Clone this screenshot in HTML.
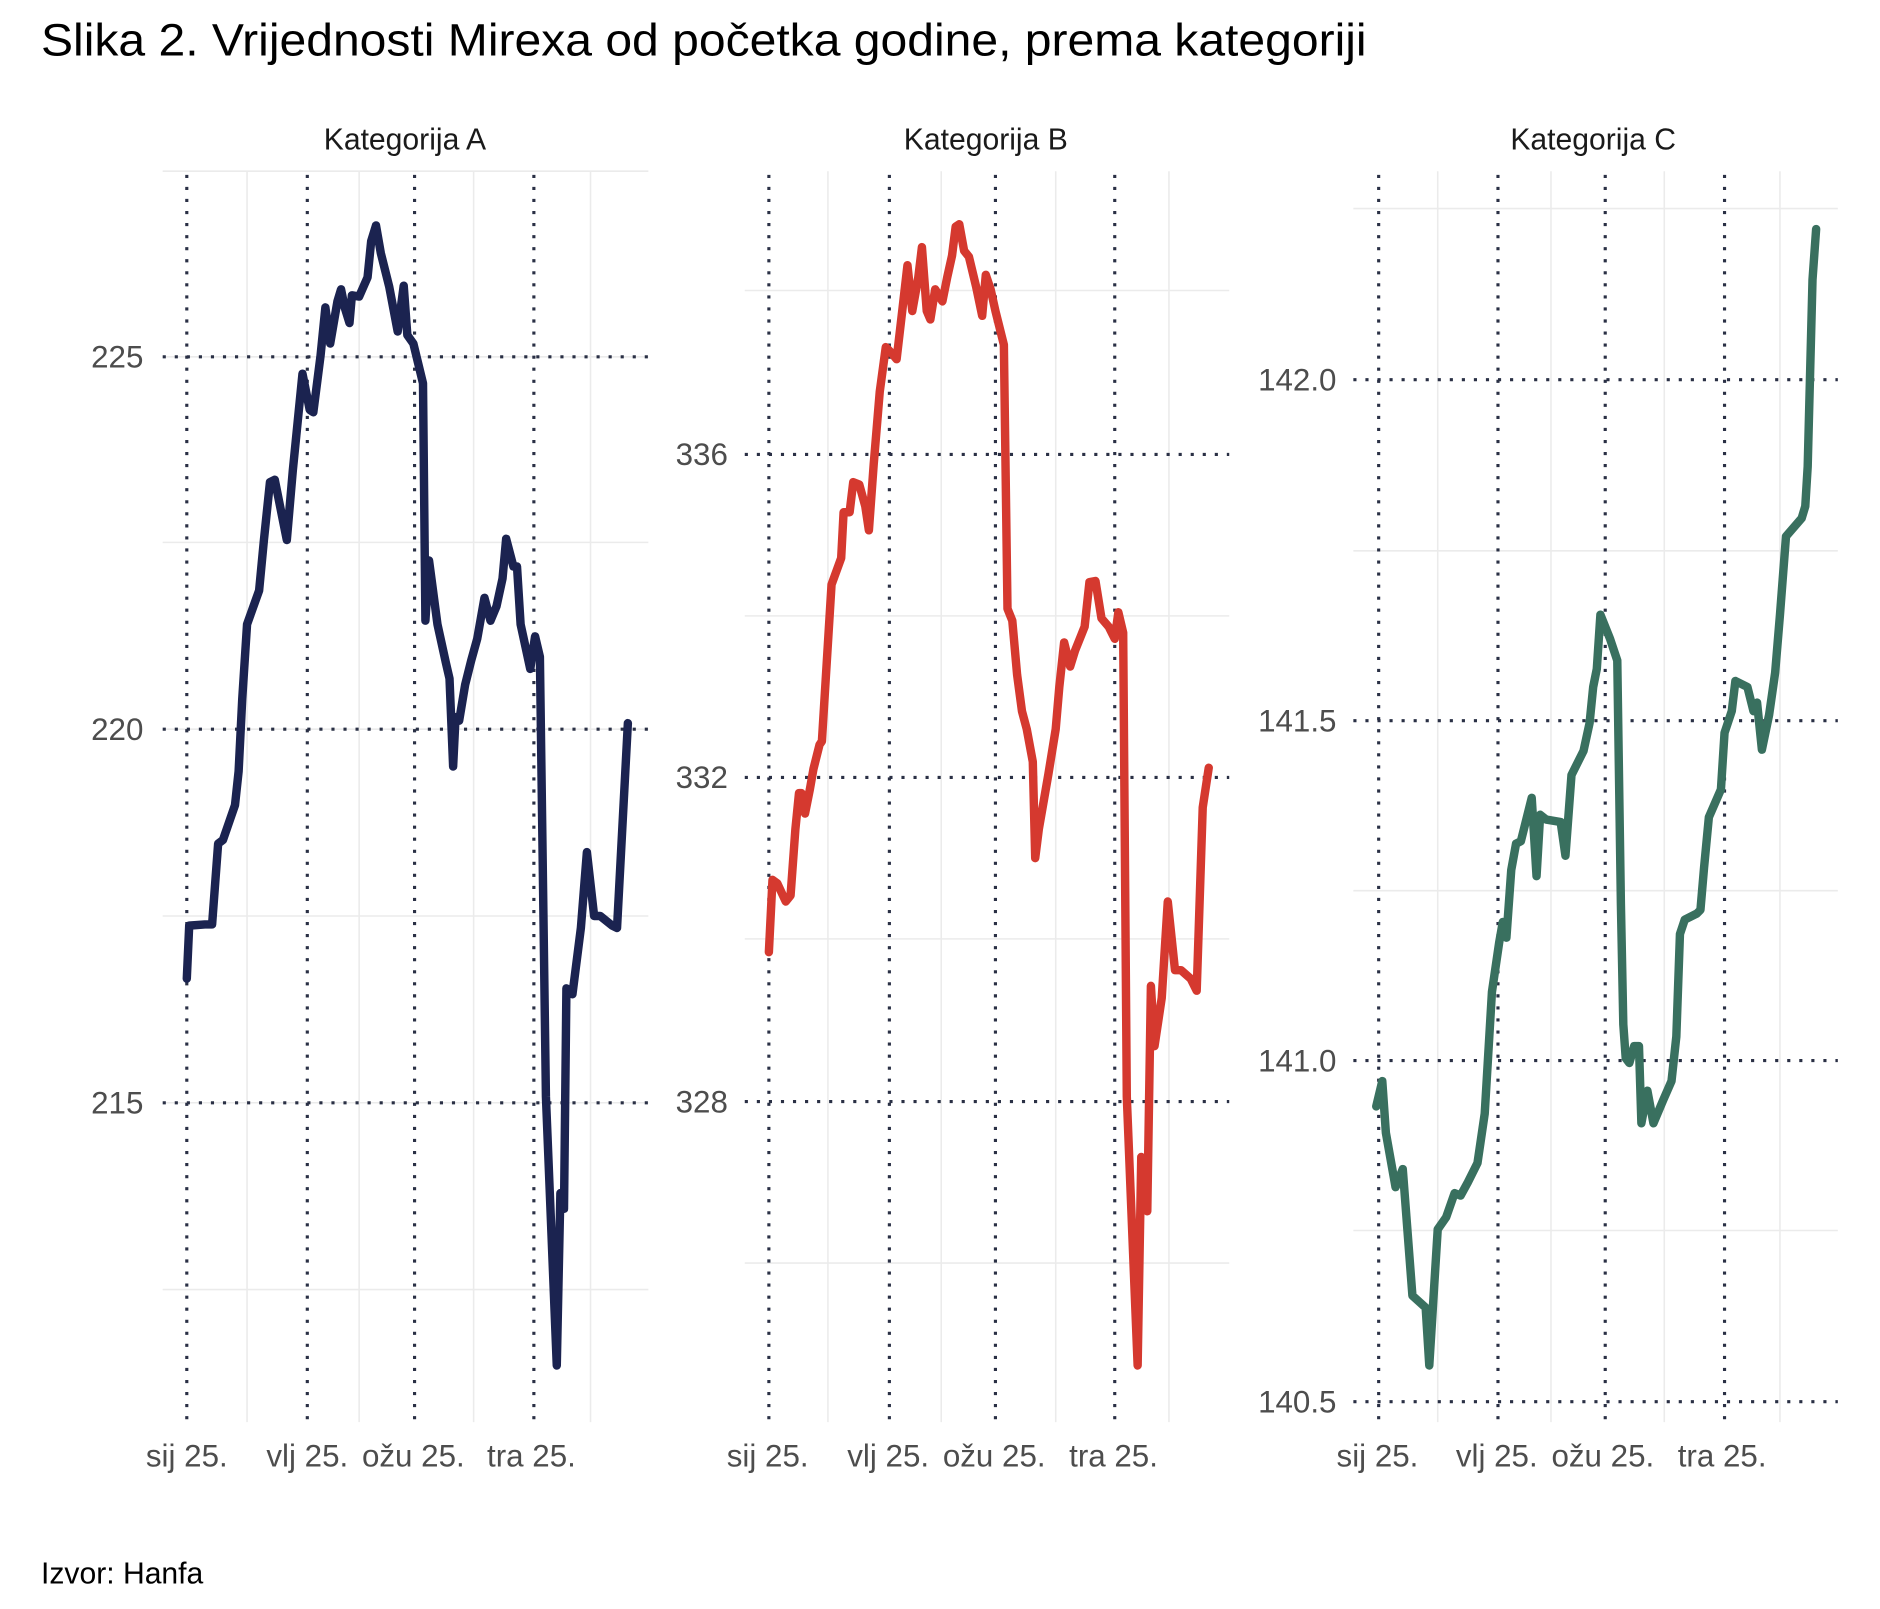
<!DOCTYPE html>
<html><head><meta charset="utf-8"><style>html,body{margin:0;padding:0;background:#fff}svg{display:block}</style></head><body>
<svg width="1880" height="1609" viewBox="0 0 1560 1335" xmlns="http://www.w3.org/2000/svg" font-family="Liberation Sans, Arial, sans-serif">
<rect width="1560" height="1335" fill="#fff"/>
<text x="34" y="46" font-size="38" fill="#000" textLength="1100" lengthAdjust="spacingAndGlyphs">Slika 2. Vrijednosti Mirexa od početka godine, prema kategoriji</text>
<text x="34" y="1314" font-size="25" fill="#000">Izvor: Hanfa</text>
<g font-size="25" fill="#1a1a1a" text-anchor="middle">
<text x="336" y="124">Kategorija A</text><text x="818" y="124">Kategorija B</text><text x="1322" y="124">Kategorija C</text></g>
<g stroke="#ebebeb" stroke-width="1.3" fill="none">
<path d="M135 142H538M135 450H538M135 760H538M135 1070H538M205 142V1180M298 142V1180M393 142V1180M490 142V1180"/>
<path d="M135 296H538M135 605H538M135 915H538"/>
<path d="M618 241H1020M618 511H1020M618 779H1020M618 1048H1020M687 142V1180M781 142V1180M876 142V1180M970 142V1180"/>
<path d="M1123 173H1525M1123 457H1525M1123 739H1525M1123 1021H1525M1193 142V1180M1287 142V1180M1381 142V1180M1477 142V1180"/>
</g>
<g stroke="#2a3045" stroke-width="2.6" stroke-dasharray="2.6 7.4" fill="none">
<path d="M135 296H538M135 605H538M135 915H538M155 145V1180M255 145V1180M344 145V1180M443 145V1180"/>
<path d="M618 377H1020M618 645H1020M618 914H1020M638 145V1180M738 145V1180M826 145V1180M925 145V1180"/>
<path d="M1123 315H1525M1123 598H1525M1123 880H1525M1123 1163H1525M1144 145V1180M1243 145V1180M1332 145V1180M1431 145V1180"/>
</g>
<g font-size="26" fill="#4d4d4d" text-anchor="end">
<text x="119" y="305">225</text><text x="119" y="614">220</text><text x="119" y="924">215</text>
<text x="604" y="386">336</text><text x="604" y="654">332</text><text x="604" y="923">328</text>
<text x="1109" y="324">142.0</text><text x="1109" y="607">141.5</text><text x="1109" y="889">141.0</text><text x="1109" y="1172">140.5</text>
</g>
<g font-size="26" fill="#4d4d4d" text-anchor="middle">
<text x="155" y="1217">sij 25.</text><text x="255" y="1217">vlj 25.</text><text x="343" y="1217">ožu 25.</text><text x="441" y="1217">tra 25.</text>
<text x="637" y="1217">sij 25.</text><text x="737" y="1217">vlj 25.</text><text x="825" y="1217">ožu 25.</text><text x="924" y="1217">tra 25.</text>
<text x="1143" y="1217">sij 25.</text><text x="1242" y="1217">vlj 25.</text><text x="1330" y="1217">ožu 25.</text><text x="1429" y="1217">tra 25.</text>
</g>
<g fill="none" stroke-width="7" stroke-linejoin="round" stroke-linecap="round">
<polyline stroke="#1b2350" points="155,812 157,768 170,767 176,767 181,700 185,697 195,668 198,640 201,580 205,518 215,490 219,448 224,400 228,398 238,448 243,390 251,310 257,340 260,342 266,295 270,255 274,285 280,250 283,240 286,255 290,268 292,245 298,246 305,230 308,200 312,187 316,210 323,238 330,275 335,237 338,278 343,285 351,318 353,515 356,465 358,480 363,518 370,550 373,563 376,636 378,595 381,598 386,568 391,548 396,530 402,496 407,515 412,503 417,480 420,447 426,470 429,470 432,518 440,555 444,528 448,545 453,910 462,1133 465,990 468,1003 470,820 475,825 482,770 487,707 493,760 498,760 508,768 512,770 521,600"/>
<polyline stroke="#d5392f" points="638,790 641,730 645,733 652,748 656,743 660,688 663,658 665,658 668,675 672,655 675,638 680,618 682,615 686,550 690,485 698,463 700,425 705,425 708,400 713,402 718,420 721,440 725,385 730,325 735,288 740,293 744,298 749,255 753,220 757,258 762,230 765,205 769,258 772,265 776,240 782,250 786,230 790,212 793,188 796,186 800,208 804,213 810,238 815,262 818,228 822,240 826,258 833,286 836,505 840,515 844,560 848,590 852,605 857,632 859,712 862,688 866,665 870,642 876,605 879,570 883,533 888,553 892,540 900,520 904,483 909,482 914,513 920,520 925,530 928,508 932,525 935,910 938,985 944,1133 947,960 952,1005 955,818 958,868 964,828 969,748 975,805 980,805 988,812 993,822 998,670 1003,637"/>
<polyline stroke="#39705f" points="1142,918 1147,897 1150,940 1158,985 1164,970 1172,1075 1183,1085 1186,1133 1193,1020 1200,1010 1207,990 1212,992 1218,981 1226,965 1232,924 1238,823 1244,782 1247,765 1250,778 1254,722 1258,700 1262,698 1271,662 1275,727 1278,676 1283,680 1295,682 1299,710 1304,643 1314,623 1319,600 1322,570 1325,555 1328,510 1336,530 1342,548 1345,750 1347,850 1349,878 1352,882 1356,868 1360,868 1362,932 1367,905 1372,932 1380,913 1387,897 1391,860 1394,775 1398,763 1408,758 1411,755 1414,720 1418,678 1428,655 1431,608 1437,590 1440,565 1450,570 1455,590 1458,583 1462,622 1468,593 1473,558 1477,510 1482,445 1495,430 1498,420 1500,387 1504,232 1507,190"/>
</g>
</svg>
</body></html>
